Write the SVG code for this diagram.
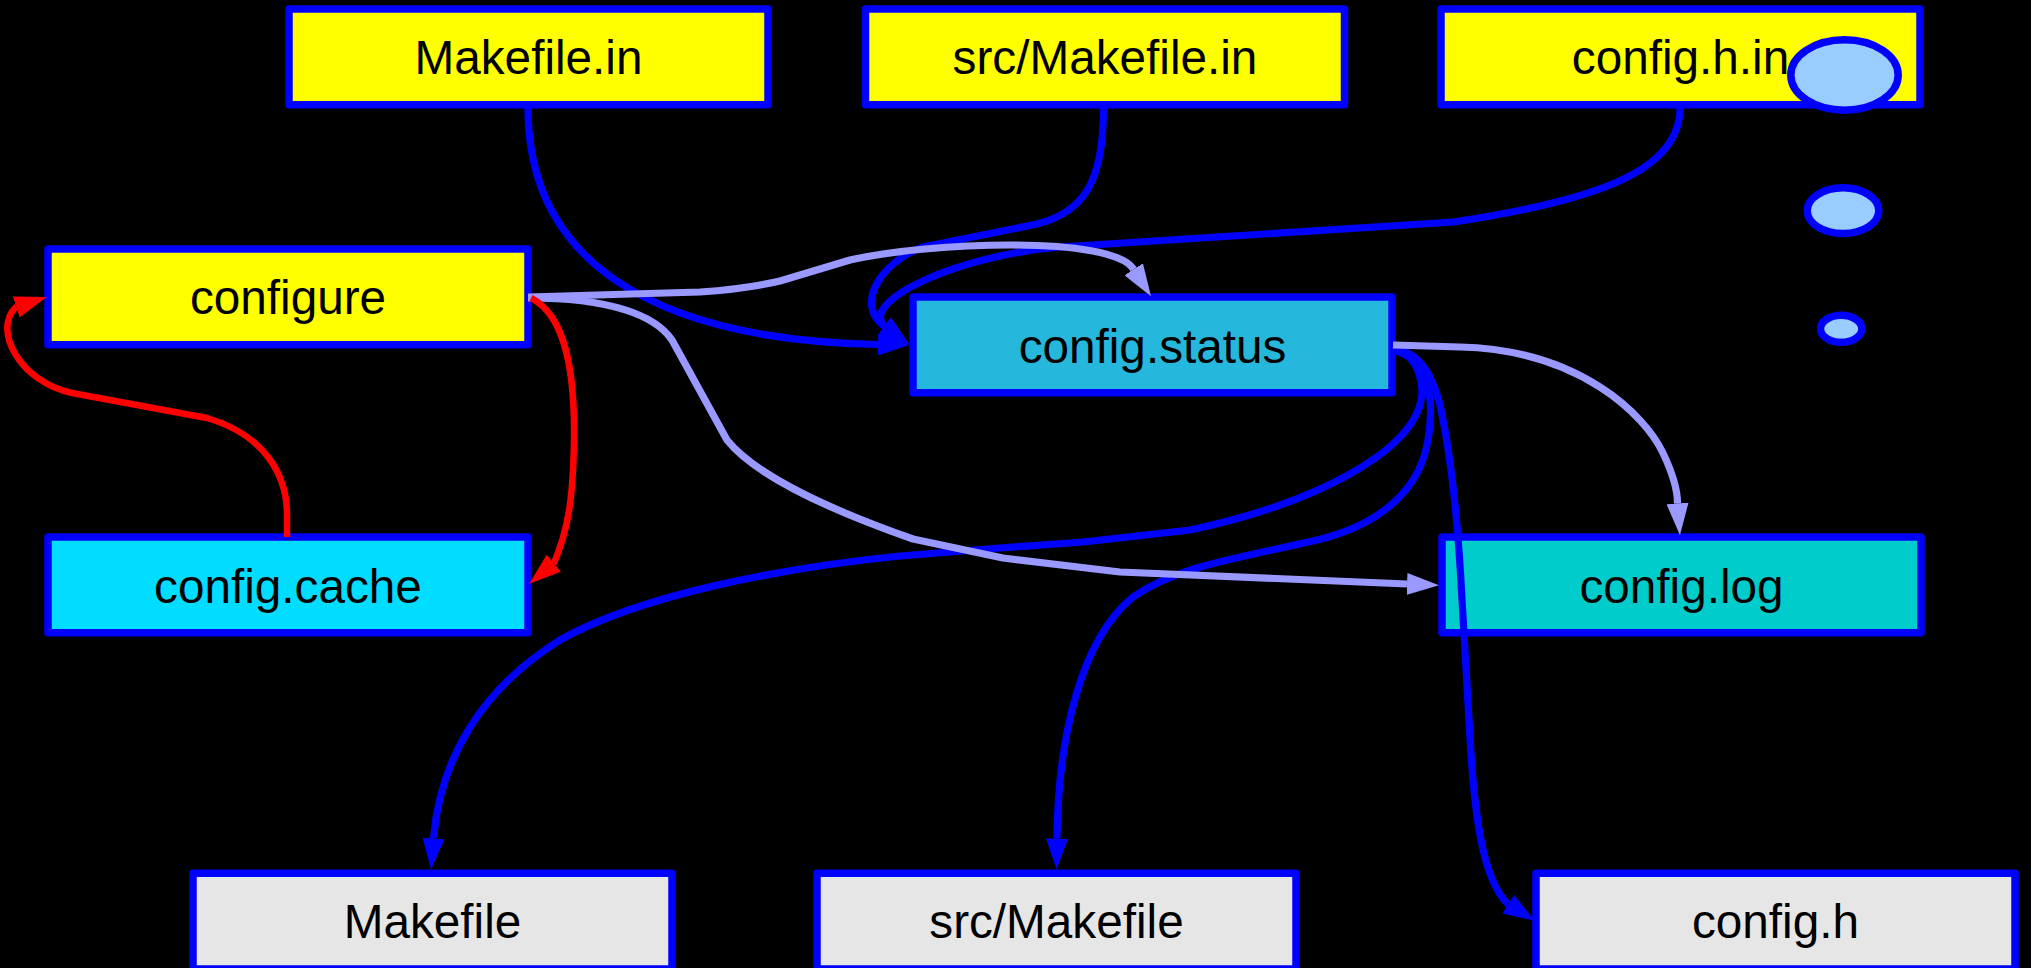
<svg xmlns="http://www.w3.org/2000/svg" width="2031" height="968" viewBox="0 0 2031 968">
  <style>
    .node rect { stroke: #0000ff; stroke-width: 7.5; stroke-linejoin: round; }
    .src rect { fill: #ffff00; }
    .out rect { fill: #e6e6e6; }
    .label { font-family: "Liberation Sans", Arial, sans-serif; font-size: 47.7px; text-anchor: middle; fill: #000000; }
    .bubble ellipse { fill: #99ccff; stroke: #0000ff; stroke-width: 7.5; }
    .edge { fill: none; stroke-linejoin: round; }
    .blue { stroke: #0000ff; stroke-width: 7.2; marker-end: url(#arrow-blue); }
    .lilac { stroke: #9999ff; stroke-width: 7.2; marker-end: url(#arrow-lilac); }
    .red { stroke: #ff0000; stroke-width: 6.5; marker-end: url(#arrow-red); }
  </style>
  <defs>
    <marker id="arrow-blue" markerUnits="userSpaceOnUse" viewBox="0 -11 31 22" refX="0" refY="0" markerWidth="31" markerHeight="22" orient="auto">
      <path d="M0,-11 L31,0 L0,11 z" fill="#0000ff"/>
    </marker>
    <marker id="arrow-lilac" markerUnits="userSpaceOnUse" viewBox="0 -11 32 22" refX="0" refY="0" markerWidth="32" markerHeight="22" orient="auto">
      <path d="M0,-11 L32,0 L0,11 z" fill="#9999ff"/>
    </marker>
    <marker id="arrow-red" markerUnits="userSpaceOnUse" viewBox="0 -11 32 22" refX="0" refY="0" markerWidth="32" markerHeight="22" orient="auto">
      <path d="M0,-11 L32,0 L0,11 z" fill="#ff0000"/>
    </marker>
  </defs>

  <rect x="0" y="0" width="2031" height="968" fill="#000000"/>

  <!-- input templates -->
  <g id="makefile-in" class="node src">
    <rect x="289" y="9" width="479" height="95.7"/>
    <text class="label" x="528.5" y="74">Makefile.in</text>
  </g>
  <g id="src-makefile-in" class="node src">
    <rect x="865.5" y="9" width="479" height="95.7"/>
    <text class="label" x="1105" y="74">src/Makefile.in</text>
  </g>
  <g id="config-h-in" class="node src">
    <rect x="1441" y="9" width="479" height="95.7"/>
    <text class="label" x="1680.5" y="74">config.h.in</text>
  </g>

  <!-- configure script and its cache -->
  <g id="configure" class="node src">
    <rect x="48" y="249" width="480" height="95.7"/>
    <text class="label" x="288" y="314">configure</text>
  </g>
  <g id="config-cache" class="node">
    <rect x="48" y="537" width="480" height="95.7" fill="#00ddff"/>
    <text class="label" x="288" y="602.5">config.cache</text>
  </g>

  <!-- generated by configure -->
  <g id="config-status" class="node">
    <rect x="913" y="297" width="479" height="95.7" fill="#25b8dc"/>
    <text class="label" x="1152.5" y="362.5">config.status</text>
  </g>
  <g id="config-log" class="node">
    <rect x="1442" y="537" width="479" height="95.7" fill="#00cccc"/>
    <text class="label" x="1681.5" y="602.5">config.log</text>
  </g>

  <!-- generated by config.status -->
  <g id="makefile" class="node out">
    <rect x="193" y="873.3" width="479" height="95.7"/>
    <text class="label" x="432.5" y="938.3">Makefile</text>
  </g>
  <g id="src-makefile" class="node out">
    <rect x="817" y="873.3" width="479" height="95.7"/>
    <text class="label" x="1056.5" y="938.3">src/Makefile</text>
  </g>
  <g id="config-h" class="node out">
    <rect x="1536" y="873.3" width="479" height="95.7"/>
    <text class="label" x="1775.5" y="938.3">config.h</text>
  </g>

  <!-- thought bubbles -->
  <g id="bubbles" class="bubble">
    <ellipse cx="1844.5" cy="75" rx="53.7" ry="35.3"/>
    <ellipse cx="1843" cy="210.7" rx="35.8" ry="22.9"/>
    <ellipse cx="1841.2" cy="328.8" rx="20.7" ry="13.5"/>
  </g>

  <g id="connectors">
    <!-- templates into config.status -->
    <path class="edge blue" d="M528 108 C528 260 650 340 878 344.5"/>
    <path class="edge blue" d="M1103.5 108 C1103.5 180 1085 212 1037 224 L923 247 C880 262 855 305 884 326 l0.26 0.19"/>
    <path class="edge blue" d="M1680 108 C1680 170 1600 200 1453 222 L1060 247 C960 255 860 300 884 326 l0.26 0.19"/>

    <!-- config.status outputs -->
    <path class="edge blue" d="M1393 348 C1420 355 1428 390 1417 413 C1400 450 1330 500 1190 530 L1083 542 L1000 548 L900 556 C780 568 640 595 560 640 C480 690 440 760 433.5 838.5"/>
    <path class="edge blue" d="M1393 350 C1425 358 1436 390 1428 440 C1420 490 1380 525 1317 540 C1240 558 1180 565 1133 597 C1080 640 1058 740 1057 838.5"/>
    <path class="edge blue" d="M1393 348 C1420 352 1432 375 1440 405 C1452 460 1458 520 1462 600 L1470 737 C1474 810 1482 880 1508 904 l0.27 0.17"/>

    <!-- configure runs -->
    <path class="edge lilac" d="M528 297 L700 292 Q745 289 780 281 L850 260 C930 242 1111 235 1133.5 269 l0.18 0.28"/>
    <path class="edge lilac" d="M528 298 C610 298 655 315 672 340 L727 440 C755 475 830 510 913 539 L1003 558 L1120 572 L1407 584"/>
    <path class="edge lilac" d="M1393 345 L1460 347 C1580 350 1645 415 1663 453 C1672 472 1677.5 488 1677.5 503 l0.03 0.4"/>

    <!-- cache round trip -->
    <path class="edge red" d="M531 298 C565 315 575 370 574 440 C573 500 568 530 554 563 l-0.25 0.21"/>
    <path class="edge red" d="M287 537 L287 512 C286 475 265 435 207 418 L72 393 C20 382 -8 330 16 307 l0.31 -0.1"/>
  </g>
</svg>
